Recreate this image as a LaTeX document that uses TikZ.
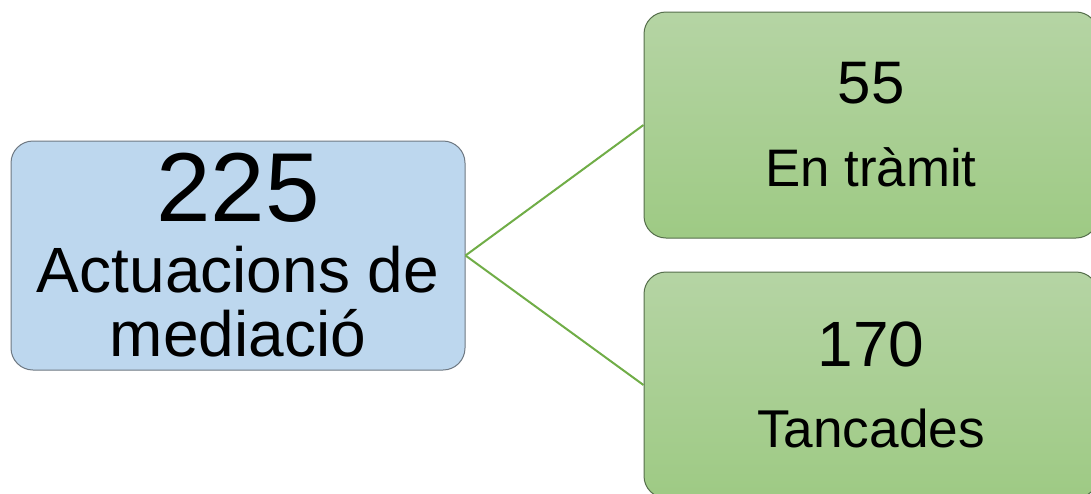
\documentclass[tikz,border=0pt]{standalone}
\usepackage{fontspec}
\setmainfont{Liberation Sans}
\usepackage{xcolor}
\usepackage{tikz}
\definecolor{blaufons}{RGB}{189,215,238}
\definecolor{blauvora}{RGB}{110,120,130}
\definecolor{verdsup}{RGB}{181,212,164}
\definecolor{verdinf}{RGB}{158,202,132}
\definecolor{verdvora}{RGB}{85,110,75}
\definecolor{verdlinia}{RGB}{112,173,71}

\begin{document}
\begin{tikzpicture}[x=0.5pt,y=-0.5pt,
  caixa/.style={rounded corners=11pt,line width=0.5pt,align=center,inner sep=0pt},
  total/.style={caixa,draw=blauvora,fill=blaufons,minimum width=227pt,minimum height=114.5pt,
    font=\fontsize{32}{32}\selectfont},
  part/.style={caixa,draw=verdvora,top color=verdsup,bottom color=verdinf,
    minimum width=227pt,minimum height=113pt},
  enllac/.style={verdlinia,line width=1pt}]
\path[clip] (0,0) rectangle (1091,493);
\useasboundingbox (0,0) rectangle (1091,493);
\node[total] (actuacions) at (238,255.5)
  {{\fontsize{49}{49}\selectfont 225}\\[3.5pt]Actuacions de\\mediació};
\node[part,font=\fontsize{26.4}{41.5}\selectfont] (tramit) at (871,125)
  {{\fontsize{30}{41.5}\selectfont 55}\\En tràmit};
\node[part,font=\fontsize{26.6}{40.5}\selectfont] (tancades) at (871,385)
  {{\fontsize{32}{40.5}\selectfont 170}\\Tancades};
\draw[enllac] (actuacions.east) -- (tramit.west);
\draw[enllac] (actuacions.east) -- (tancades.west);
\end{tikzpicture}
\end{document}
